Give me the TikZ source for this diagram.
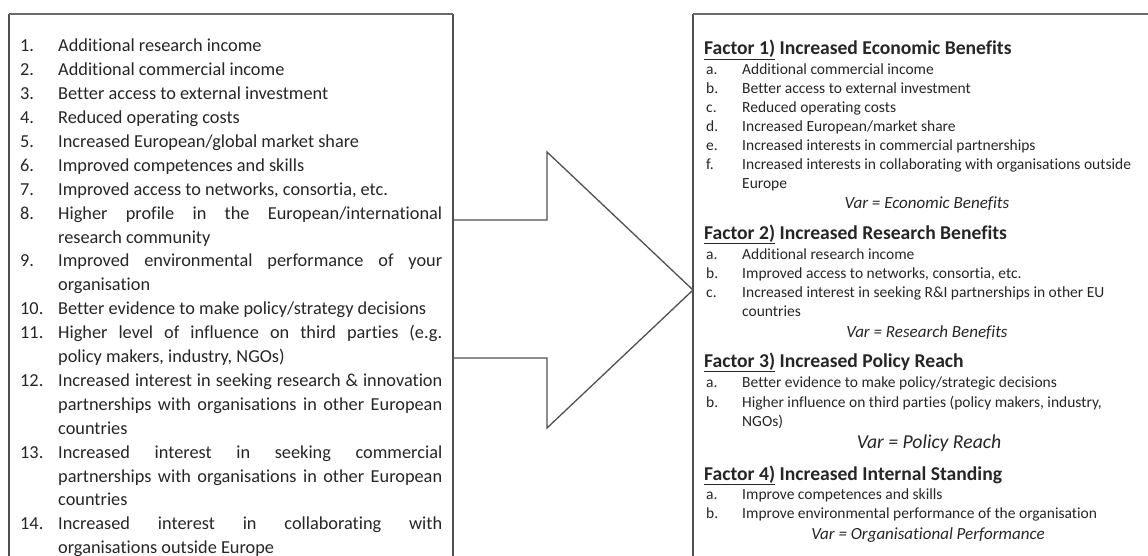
\documentclass[tikz,border=0pt]{standalone}
\usepackage{fontspec}
\setmainfont{Carlito}[Ligatures=NoCommon]
\definecolor{txt}{HTML}{262626}
\definecolor{framec}{HTML}{505050}
\definecolor{topc}{HTML}{6A6A6A}
\newcommand\litem[2]{\par\hangindent=38pt\hangafter=1\noindent\makebox[38pt][l]{#1}#2}
\begin{document}
\begin{tikzpicture}[x=1pt,y=-1pt,
  frameside/.style={draw=framec,line width=1.4pt},
  frametop/.style={draw=topc,line width=2.2pt},
  arrowline/.style={draw=framec,line width=1.3pt,line join=miter},
  lbox/.style={anchor=base west,inner sep=0pt,text width=422pt,align=justify,
    font=\fontsize{18.3}{23.9}\selectfont,text=txt},
  lett/.style={anchor=base west,inner sep=0pt,font=\fontsize{15.5}{19}\selectfont,text=txt},
  itm/.style={anchor=base west,inner sep=0pt,font=\fontsize{15.5}{19}\selectfont,text=txt},
  head/.style={anchor=base west,inner sep=0pt,font=\fontsize{19.6}{22}\selectfont\bfseries,text=txt},
  var/.style={anchor=base,inner sep=0pt,font=\fontsize{17}{19}\selectfont\itshape,text=txt},
  bigvar/.style={anchor=base,inner sep=0pt,font=\fontsize{19.7}{22}\selectfont\itshape,text=txt}]
\useasboundingbox (0,0) rectangle (1148,556);
\clip (0,0) rectangle (1148,556);
\fill[white] (0,0) rectangle (1148,556);
% frames
\coordinate (LTL) at (9,14);
\coordinate (LTR) at (453,14);
\coordinate (LBL) at (9,580);
\coordinate (LBR) at (453,580);
\coordinate (RTL) at (693,14);
\coordinate (RTR) at (1170,14);
\coordinate (RBL) at (693,580);
\draw[frameside] (LBL) -- (LTL);
\draw[frameside] (LTR) -- (LBR);
\draw[frameside] (RTL) -- (RBL);
\draw[frametop] (LTL) -- (LTR);
\draw[frametop] (RTL) -- (RTR);
% arrow
\draw[arrowline] (453,220) -- (547,220) -- (547,152) -- (693,290) -- (547,428) -- (547,358) -- (453,358);
% left list
\node[lbox] (list) at (20,28) {%
\litem{1.}{Additional research income}
\litem{2.}{Additional commercial income}
\litem{3.}{Better access to external investment}
\litem{4.}{Reduced operating costs}
\litem{5.}{Increased European/global market share}
\litem{6.}{Improved competences and skills}
\litem{7.}{Improved access to networks, consortia, etc.}
\litem{8.}{Higher profile in the European/international\linebreak research community}
\litem{9.}{Improved environmental performance of your\linebreak organisation}
\litem{10.}{Better evidence to make policy/strategy decisions}
\litem{11.}{Higher level of influence on third parties (e.g.\linebreak policy makers, industry, NGOs)}
\litem{12.}{Increased interest in seeking research \& innovation\linebreak partnerships with organisations in other European\linebreak countries}
\litem{13.}{Increased interest in seeking commercial\linebreak partnerships with organisations in other European\linebreak countries}
\litem{14.}{Increased interest in collaborating with\linebreak organisations outside Europe}\par
};
% Factor 1
\node[head] (h1) at (704,55) {\underline{Factor 1)} Increased Economic Benefits};
\node[lett] (l1a) at (706,75) {a.};
\node[itm] (t1a) at (742,75) {Additional commercial income};
\node[lett] (l1b) at (706,94) {b.};
\node[itm] (t1b) at (742,94) {Better access to external investment};
\node[lett] (l1c) at (706,113) {c.};
\node[itm] (t1c) at (742,113) {Reduced operating costs};
\node[lett] (l1d) at (706,132) {d.};
\node[itm] (t1d) at (742,132) {Increased European/market share};
\node[lett] (l1e) at (706,151) {e.};
\node[itm] (t1e) at (742,151) {Increased interests in commercial partnerships};
\node[lett] (l1f) at (706,170) {f.};
\node[itm] (t1f) at (742,170) {Increased interests in collaborating with organisations outside};
\node[itm] (t1f2) at (742,189) {Europe};
\node[var] (v1) at (927,208) {Var = Economic Benefits};
% Factor 2
\node[head] (h2) at (704,239) {\underline{Factor 2)} Increased Research Benefits};
\node[lett] (l2a) at (706,259) {a.};
\node[itm] (t2a) at (742,259) {Additional research income};
\node[lett] (l2b) at (706,278) {b.};
\node[itm] (t2b) at (742,278) {Improved access to networks, consortia, etc.};
\node[lett] (l2c) at (706,297) {c.};
\node[itm] (t2c) at (742,297) {Increased interest in seeking R\&I partnerships in other EU};
\node[itm] (t2c2) at (742,316) {countries};
\node[var] (v2) at (927,337) {Var = Research Benefits};
% Factor 3
\node[head] (h3) at (704,367) {\underline{Factor 3)} Increased Policy Reach};
\node[lett] (l3a) at (706,387) {a.};
\node[itm] (t3a) at (742,387) {Better evidence to make policy/strategic decisions};
\node[lett] (l3b) at (706,407) {b.};
\node[itm] (t3b) at (742,407) {Higher influence on third parties (policy makers, industry,};
\node[itm] (t3b2) at (742,426) {NGOs)};
\node[bigvar] (v3) at (929,448) {Var = Policy Reach};
% Factor 4
\node[head] (h4) at (704,480) {\underline{Factor 4)} Increased Internal Standing};
\node[lett] (l4a) at (706,499) {a.};
\node[itm] (t4a) at (742,499) {Improve competences and skills};
\node[lett] (l4b) at (706,518) {b.};
\node[itm] (t4b) at (742,518) {Improve environmental performance of the organisation};
\node[var] (v4) at (928,539) {Var = Organisational Performance};
\end{tikzpicture}
\end{document}
